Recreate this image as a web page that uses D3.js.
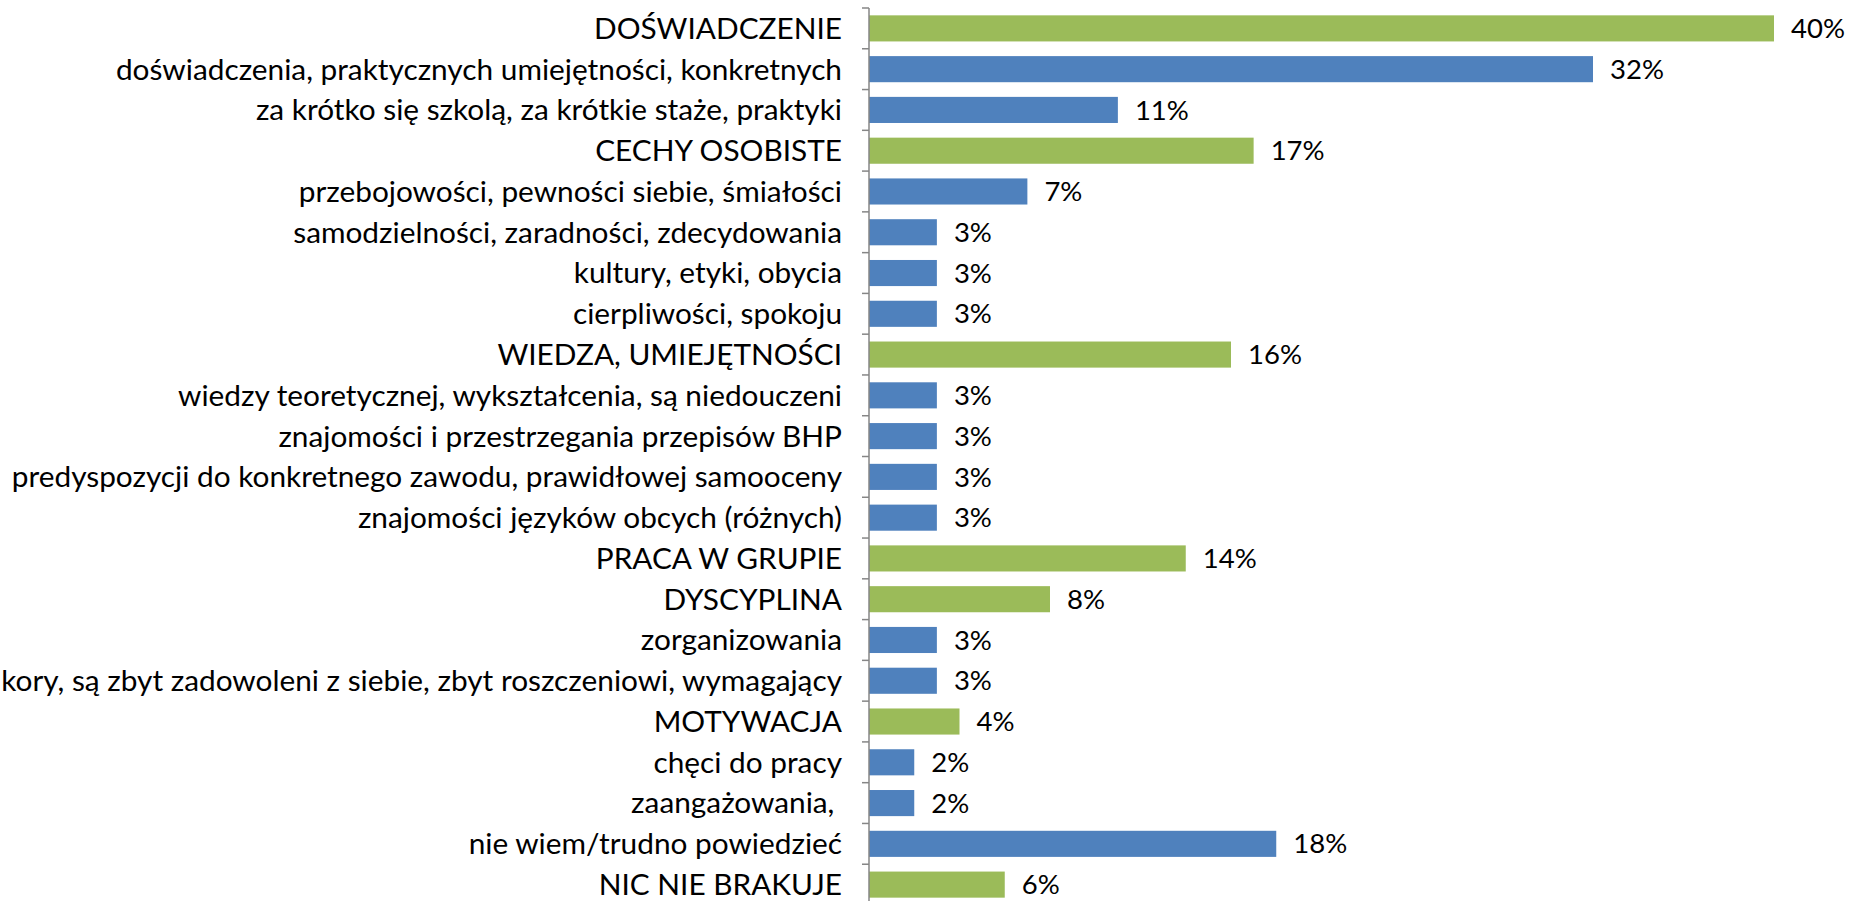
<!DOCTYPE html>
<html>
<head>
<meta charset="utf-8">
<script src="https://cdn.jsdelivr.net/npm/d3@7"></script>
<style>
  body { margin: 0; background: #fff; }
  svg { display: block; font-family: Lato, 'Open Sans', sans-serif; }
</style>
</head>
<body>
<svg id="chart"></svg>
<script>
const SVG_WIDTH = 1854;
const SVG_HEIGHT = 901;

// Categories, top to bottom.
const categories = [
  'DOŚWIADCZENIE',
  'doświadczenia, praktycznych umiejętności, konkretnych',
  'za krótko się szkolą, za krótkie staże, praktyki',
  'CECHY OSOBISTE',
  'przebojowości, pewności siebie, śmiałości',
  'samodzielności, zaradności, zdecydowania',
  'kultury, etyki, obycia',
  'cierpliwości, spokoju',
  'WIEDZA, UMIEJĘTNOŚCI',
  'wiedzy teoretycznej, wykształcenia, są niedouczeni',
  'znajomości i przestrzegania przepisów BHP',
  'predyspozycji do konkretnego zawodu, prawidłowej samooceny',
  'znajomości języków obcych (różnych)',
  'PRACA W GRUPIE',
  'DYSCYPLINA',
  'zorganizowania',
  'kory, są zbyt zadowoleni z siebie, zbyt roszczeniowi, wymagający',
  'MOTYWACJA',
  'chęci do pracy',
  'zaangażowania, ',
  'nie wiem/trudno powiedzieć',
  'NIC NIE BRAKUJE'
];

// Percent values for each category.
const values = [40, 32, 11, 17, 7, 3, 3, 3, 16, 3, 3, 3, 3, 14, 8, 3, 3, 4, 2, 2, 18, 6];

// true = main group (green), false = detail (blue).
const isGroup = [true, false, false, true, false, false, false, false, true, false, false,
  false, false, true, true, false, false, true, false, false, false, true];

const GREEN = '#9bbb59';
const BLUE = '#4f81bd';

const AXIS_X = 869;
const LABEL_SIZE = 29.8;
const VALUE_SIZE = 27.5;

const svg = d3.select('#chart')
  .attr('width', SVG_WIDTH)
  .attr('height', SVG_HEIGHT)
  .attr('viewBox', `0 0 ${SVG_WIDTH} ${SVG_HEIGHT}`);

const y = d3.scaleBand()
  .domain(d3.range(categories.length))
  .range([8, 905])
  .paddingInner(0.36)
  .paddingOuter(0.18);

// 1% is about 22.6px in the original.
const x = d3.scaleLinear()
  .domain([0, 40])
  .range([AXIS_X, AXIS_X + 905]);

// Bars.
svg.append('g')
  .selectAll('rect')
  .data(values)
  .join('rect')
  .attr('x', x(0))
  .attr('y', (d, i) => y(i))
  .attr('width', d => x(d) - x(0))
  .attr('height', y.bandwidth())
  .attr('fill', (d, i) => (isGroup[i] ? GREEN : BLUE));

// Value labels.
svg.append('g')
  .selectAll('text')
  .data(values)
  .join('text')
  .attr('x', d => x(d) + 17)
  .attr('y', (d, i) => y(i) + y.bandwidth() / 2)
  .attr('dy', '0.35em')
  .style('font-size', VALUE_SIZE + 'px')
  .attr('fill', '#000')
  .text(d => d + '%');

// Category axis, ticks between categories.
const axis = svg.append('g');
const step = y.step();
const edges = d3.range(categories.length + 1).map(i => 8 + i * step);

axis.append('line')
  .attr('x1', AXIS_X).attr('x2', AXIS_X)
  .attr('y1', edges[0]).attr('y2', SVG_HEIGHT)
  .attr('stroke', '#868686')
  .attr('stroke-width', 1.5);

axis.selectAll('line.tick')
  .data(edges)
  .join('line')
  .attr('class', 'tick')
  .attr('x1', AXIS_X - 7).attr('x2', AXIS_X)
  .attr('y1', d => d).attr('y2', d => d)
  .attr('stroke', '#868686')
  .attr('stroke-width', 1.5);

axis.selectAll('text')
  .data(categories)
  .join('text')
  .attr('x', AXIS_X - 27)
  .attr('y', (d, i) => 8 + (i + 0.5) * step)
  .attr('dy', '0.35em')
  .attr('text-anchor', 'end')
  .style('font-size', LABEL_SIZE + 'px')
  .style('white-space', 'pre')
  .attr('fill', '#000')
  .text(d => d);
</script>
</body>
</html>
